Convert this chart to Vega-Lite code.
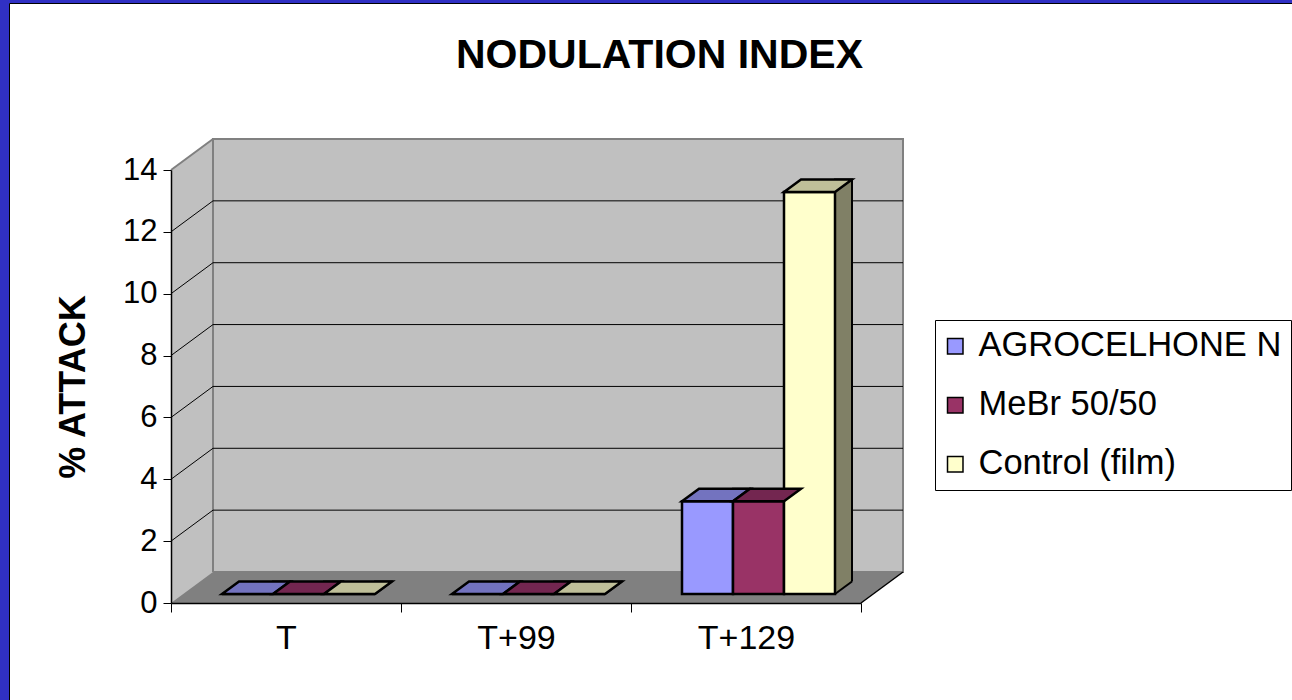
{
 "$schema": "https://vega.github.io/schema/vega-lite/v6.json",
 "width": 1283, "height": 697,
 "autosize": "none",
 "padding": {"left": 9, "top": 3, "right": 0, "bottom": 0},
 "background": "#3030C4",
 "config": {
   "font": "Liberation Sans",
   "view": {"fill": "white", "stroke": "black", "strokeWidth": 1},
   "axis": {"labelColor": "black", "titleColor": "black", "domainColor": "black", "tickColor": "black", "grid": false}
 },
 "title": {"text": "NODULATION INDEX", "fontSize": 41, "fontWeight": "bold", "color": "black", "anchor": "middle", "frame": "group", "offset": -74, "dx": 9},
 "datasets": {
   "bars": [
     {"cat": "T", "series": "AGROCELHONE N", "value": 0},
     {"cat": "T", "series": "MeBr 50/50", "value": 0},
     {"cat": "T", "series": "Control (film)", "value": 0},
     {"cat": "T+99", "series": "AGROCELHONE N", "value": 0},
     {"cat": "T+99", "series": "MeBr 50/50", "value": 0},
     {"cat": "T+99", "series": "Control (film)", "value": 0},
     {"cat": "T+129", "series": "AGROCELHONE N", "value": 3},
     {"cat": "T+129", "series": "MeBr 50/50", "value": 3},
     {"cat": "T+129", "series": "Control (film)", "value": 13}
   ],
   "grid": [{"v": 2}, {"v": 4}, {"v": 6}, {"v": 8}, {"v": 10}, {"v": 12}],
   "one": [{"k": 1}]
 },
 "layer": [
  {"data": {"name": "one"},
   "mark": {"type": "rect", "fill": "#C0C0C0", "stroke": "#808080", "strokeWidth": 2, "xOffset": 42, "x2Offset": 42, "yOffset": -31, "y2Offset": -31},
   "encoding": {
     "x": {"datum": "T", "type": "nominal", "bandPosition": 0, "scale": {"domain": ["T","T+99","T+129"], "range": [162, 852], "paddingInner": 0, "paddingOuter": 0}},
     "x2": {"datum": "T+129", "bandPosition": 1},
     "y": {"datum": 0, "type": "quantitative", "scale": {"domain": [0, 14], "range": [600, 167], "nice": false, "zero": true}},
     "y2": {"datum": 14}
   }},
  {"data": {"name": "one"},
   "mark": {"type": "rect", "fill": "#808080", "strokeWidth": 0, "y2Offset": -31},
   "encoding": {
     "x": {"datum": "T", "type": "nominal", "bandPosition": 0},
     "x2": {"datum": "T+129", "bandPosition": 1},
     "y": {"datum": 0, "type": "quantitative"},
     "y2": {"datum": 0}
   }},
  {"data": {"name": "one"},
   "mark": {"type": "point", "shape": "M0,0 L0,-31 L42,-31 Z", "size": 4, "filled": true, "fill": "#808080", "opacity": 1, "strokeWidth": 0},
   "encoding": {
     "x": {"datum": "T+129", "type": "nominal", "bandPosition": 1},
     "y": {"datum": 0, "type": "quantitative"}
   }},
  {"data": {"name": "one"},
   "mark": {"type": "rect", "fill": "#C0C0C0", "strokeWidth": 0, "x2Offset": 42, "yOffset": -31},
   "encoding": {
     "x": {"datum": "T", "type": "nominal", "bandPosition": 0},
     "x2": {"datum": "T", "bandPosition": 0},
     "y": {"datum": 0, "type": "quantitative"},
     "y2": {"datum": 14}
   }},
  {"data": {"name": "one"},
   "mark": {"type": "point", "shape": "M0,0 L0,-31 L42,-31 Z", "size": 4, "filled": true, "fill": "#C0C0C0", "opacity": 1, "strokeWidth": 0},
   "encoding": {
     "x": {"datum": "T", "type": "nominal", "bandPosition": 0},
     "y": {"datum": 0, "type": "quantitative"}
   }},
  {"data": {"name": "one"},
   "mark": {"type": "point", "shape": "M0,0 L42,-31 L42,0 Z", "size": 4, "filled": true, "fill": "#C0C0C0", "opacity": 1, "strokeWidth": 0},
   "encoding": {
     "x": {"datum": "T", "type": "nominal", "bandPosition": 0},
     "y": {"datum": 14, "type": "quantitative"}
   }},
  {"data": {"name": "one"},
   "mark": {"type": "rule", "color": "#808080", "strokeWidth": 2, "xOffset": 42, "yOffset": -31, "y2Offset": -31},
   "encoding": {
     "x": {"datum": "T", "type": "nominal", "bandPosition": 0},
     "y": {"datum": 0, "type": "quantitative"},
     "y2": {"datum": 14}
   }},
  {"data": {"name": "one"},
   "mark": {"type": "rule", "color": "#808080", "strokeWidth": 2, "x2Offset": 42, "y2Offset": -31},
   "encoding": {
     "x": {"datum": "T", "type": "nominal", "bandPosition": 0},
     "x2": {"datum": "T", "bandPosition": 0},
     "y": {"datum": 14, "type": "quantitative"},
     "y2": {"datum": 14}
   }},
  {"data": {"name": "grid"},
   "mark": {"type": "rule", "color": "#000000", "strokeWidth": 1, "xOffset": 42, "x2Offset": 42, "yOffset": -31},
   "encoding": {
     "x": {"datum": "T", "type": "nominal", "bandPosition": 0},
     "x2": {"datum": "T+129", "bandPosition": 1},
     "y": {"field": "v", "type": "quantitative"}
   }},
  {"data": {"name": "grid"},
   "mark": {"type": "rule", "color": "#000000", "strokeWidth": 1, "x2Offset": 42, "y2Offset": -31},
   "encoding": {
     "x": {"datum": "T", "type": "nominal", "bandPosition": 0},
     "x2": {"datum": "T", "bandPosition": 0},
     "y": {"field": "v", "type": "quantitative"},
     "y2": {"field": "v"}
   }},
  {"data": {"name": "one"},
   "mark": {"type": "rule", "color": "#000000", "strokeWidth": 1.5, "x2Offset": 42, "y2Offset": -31},
   "encoding": {
     "x": {"datum": "T+129", "type": "nominal", "bandPosition": 1},
     "x2": {"datum": "T+129", "bandPosition": 1},
     "y": {"datum": 0, "type": "quantitative"},
     "y2": {"datum": 0}
   }},
  {"data": {"name": "bars"},
   "mark": {"type": "bar", "width": 17, "stroke": "#000000", "strokeWidth": 2, "yOffset": -21.5, "y2Offset": -9},
   "encoding": {
     "x": {"field": "cat", "type": "nominal"},
     "xOffset": {"field": "series", "type": "nominal", "scale": {"domain": ["AGROCELHONE N", "MeBr 50/50", "Control (film)"], "range": [85, 238], "paddingInner": 0, "paddingOuter": 0}},
     "y": {"field": "value", "type": "quantitative", "stack": null},
     "y2": {"datum": 0},
     "fill": {"field": "series", "type": "nominal", "legend": null, "scale": {"domain": ["AGROCELHONE N", "MeBr 50/50", "Control (film)"], "range": ["#4D4D80", "#4D1A33", "#808066"]}}
   }},
  {"data": {"name": "bars"},
   "mark": {"type": "point", "shape": "M25.5,0 L42.5,-12.5 L44,-12.5 L44,2 L25.5,2 Z", "size": 4, "filled": true, "fill": "#808080", "opacity": 1, "strokeWidth": 0, "yOffset": -9},
   "encoding": {
     "x": {"field": "cat", "type": "nominal"},
     "xOffset": {"field": "series", "type": "nominal", "scale": {"type": "point", "domain": ["AGROCELHONE N", "MeBr 50/50", "Control (film)"], "range": [76.5, 178.5], "padding": 0}},
     "y": {"datum": 0, "type": "quantitative"}
   }},
  {"data": {"name": "bars"},
   "mark": {"type": "point", "shape": "M25.5,0 L42.5,-12.5", "size": 4, "filled": false, "stroke": "#000000", "strokeWidth": 2, "opacity": 1, "yOffset": -9},
   "encoding": {
     "x": {"field": "cat", "type": "nominal"},
     "xOffset": {"field": "series", "type": "nominal", "scale": {"type": "point", "domain": ["AGROCELHONE N", "MeBr 50/50", "Control (film)"], "range": [76.5, 178.5], "padding": 0}},
     "y": {"datum": 0, "type": "quantitative"}
   }},
  {"data": {"name": "bars"},
   "mark": {"type": "bar", "stroke": "#000000", "strokeWidth": 2.5, "yOffset": -9, "y2Offset": -9},
   "encoding": {
     "x": {"field": "cat", "type": "nominal", "axis": {"title": null, "tickBand": "extent", "offset": -97, "labelFontSize": 34, "labelPadding": 9, "labelAlign": "center", "labelBaseline": "top", "tickSize": 9, "domainWidth": 1.5, "tickWidth": 1, "labelAngle": 0, "zindex": 1}},
     "xOffset": {"field": "series", "type": "nominal", "scale": {"domain": ["AGROCELHONE N", "MeBr 50/50", "Control (film)"], "range": [51, 204], "paddingInner": 0, "paddingOuter": 0}},
     "y": {"field": "value", "type": "quantitative", "stack": null, "axis": {"title": "% ATTACK", "values": [0, 2, 4, 6, 8, 10, 12, 14], "offset": -162, "tickSize": 8, "labelFontSize": 31, "labelPadding": 6, "titleFontSize": 36, "titleFontWeight": "bold", "titlePadding": 30, "domainWidth": 1.5, "zindex": 1}},
     "y2": {"datum": 0},
     "color": {"field": "series", "type": "nominal", "scale": {"domain": ["AGROCELHONE N", "MeBr 50/50", "Control (film)"], "range": ["#9999FF", "#993366", "#FFFFCC"]},
       "legend": {"title": null, "orient": "none", "legendX": 926, "legendY": 317, "fillColor": "white", "strokeColor": "black", "padding": 9, "symbolType": "square", "symbolSize": 240, "symbolOffset": -6, "symbolStrokeColor": "black", "symbolStrokeWidth": 1.5, "symbolOpacity": 1, "labelFontSize": 34.5, "labelLimit": 0, "labelColor": "black", "rowPadding": 24, "labelOffset": 6}}
   }},
  {"data": {"name": "bars"},
   "mark": {"type": "point", "shape": "M-25.5,0 L25.5,0 L42.5,-12.5 L-8.5,-12.5 Z", "size": 4, "filled": true, "opacity": 1, "stroke": "#000000", "strokeWidth": 2.5, "yOffset": -9},
   "encoding": {
     "x": {"field": "cat", "type": "nominal"},
     "xOffset": {"field": "series", "type": "nominal", "scale": {"type": "point", "domain": ["AGROCELHONE N", "MeBr 50/50", "Control (film)"], "range": [76.5, 178.5], "padding": 0}},
     "y": {"field": "value", "type": "quantitative"},
     "fill": {"field": "series", "type": "nominal", "legend": null, "scale": {"domain": ["AGROCELHONE N", "MeBr 50/50", "Control (film)"], "range": ["#7373BF", "#732650", "#BFBF99"]}}
   }}
 ],
 "resolve": {"scale": {"xOffset": "independent", "fill": "independent"}}
}
